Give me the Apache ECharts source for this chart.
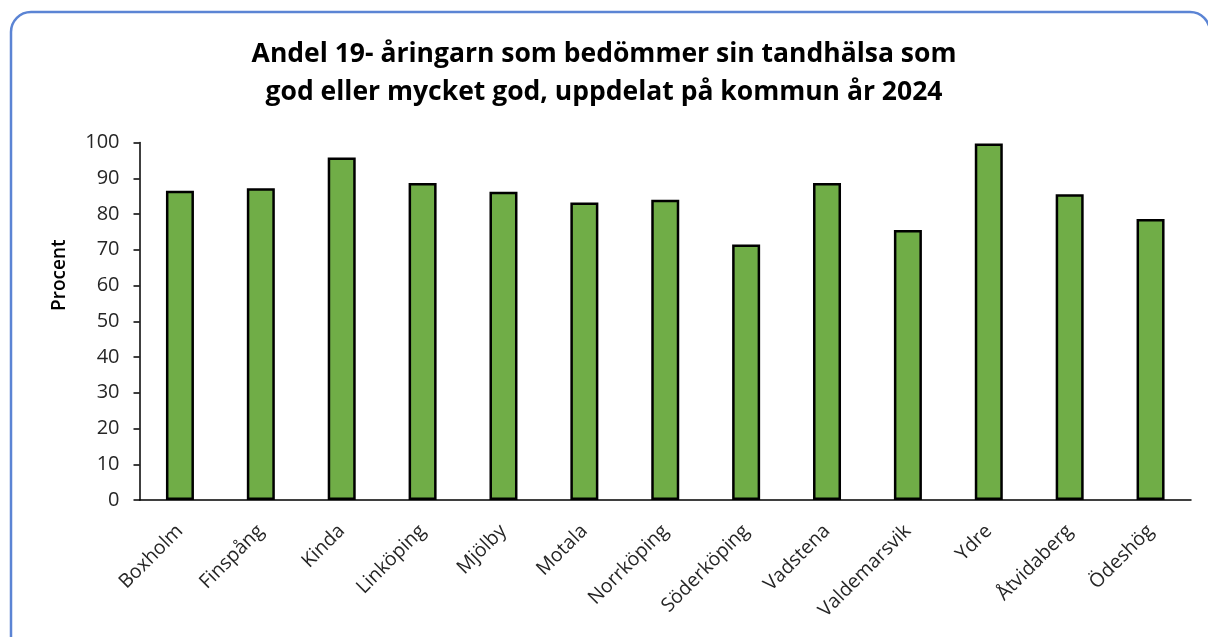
<!DOCTYPE html>
<html>
<head>
<meta charset="utf-8">
<script src="https://cdn.jsdelivr.net/npm/echarts@6/dist/echarts.min.js"></script>
<style>
html,body{margin:0;padding:0;background:#fff;}
#c{width:1208px;height:637px;}
</style>
</head>
<body>
<div id="c"></div>
<script>
var categories = ['Boxholm','Finspång','Kinda','Linköping','Mjölby','Motala','Norrköping','Söderköping','Vadstena','Valdemarsvik','Ydre','Åtvidaberg','Ödeshög'];
var values = [86.5, 87.2, 95.8, 88.7, 86.2, 83.2, 84.0, 71.5, 88.7, 75.5, 99.7, 85.5, 78.6];
var titleText = 'Andel 19- åringarn som bedömmer sin tandhälsa som\ngod eller mycket god, uppdelat på kommun år 2024';
var yName = 'Procent';

var chart = echarts.init(document.getElementById('c'), null, {renderer:'canvas'});
var font = '"Open Sans", Lato, sans-serif';
chart.setOption({
  animation:false,
  backgroundColor:'#fff',
  graphic:[{
    type:'rect',
    shape:{x:11, y:12, width:1199, height:660, r:20},
    style:{fill:'none', stroke:'#5b84d4', lineWidth:2.5},
    silent:true, z:-1
  }],
  title:{
    text:titleText,
    left:'center',
    top:30,
    textStyle:{fontFamily:font, fontWeight:'bold', fontSize:26.5, color:'#000', lineHeight:38}
  },
  grid:{left:139.5, right:17, top:142.5, bottom:137, containLabel:false},
  xAxis:{
    type:'category',
    data:categories,
    axisLine:{lineStyle:{color:'#000', width:1.5}},
    axisTick:{alignWithLabel:true, length:6, lineStyle:{color:'#000', width:1.5}},
    axisLabel:{rotate:45, interval:0, margin:28, fontFamily:font, fontSize:19.5, color:'#262626'}
  },
  yAxis:{
    type:'value',
    min:0, max:100, interval:10,
    name:yName,
    nameLocation:'middle',
    nameGap:70,
    nameTextStyle:{fontFamily:font, fontSize:19, color:'#000', fontWeight:600, padding:[0,0,0,92]},
    axisLine:{show:true, lineStyle:{color:'#000', width:1.5}},
    axisTick:{show:true, length:6, lineStyle:{color:'#000', width:1.5}},
    axisLabel:{margin:20, fontFamily:font, fontSize:20, color:'#262626'},
    splitLine:{show:false}
  },
  series:[{
    type:'bar',
    data:values,
    barWidth:28,
    itemStyle:{color:'#70ad47', borderColor:'#000', borderWidth:2.5}
  }]
});
</script>
</body>
</html>
